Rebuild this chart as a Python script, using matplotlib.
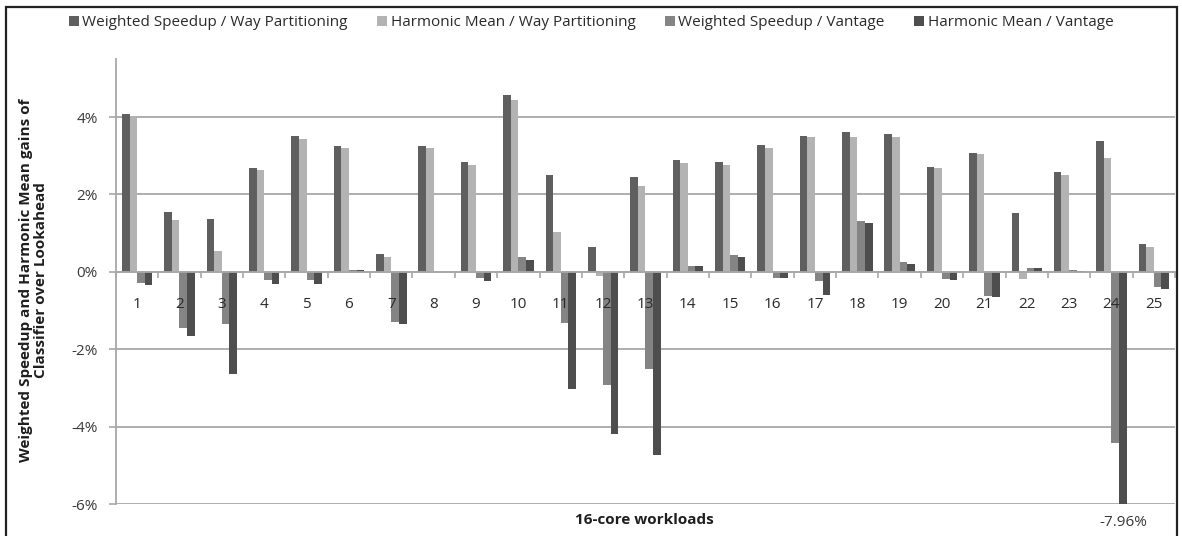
import matplotlib
matplotlib.use("Agg")
import matplotlib.pyplot as plt
import matplotlib.transforms as mtransforms
from matplotlib.patches import Patch, Rectangle
import numpy as np

plt.rcParams['font.family'] = ['Open Sans', 'DejaVu Sans']

workloads = [str(i) for i in range(1, 26)]

ws_way = [4.08, 1.55, 1.37, 2.69, 3.51, 3.24, 0.46, 3.25, 2.83, 4.56, 2.50, 0.64, 2.44,
          2.88, 2.83, 3.27, 3.52, 3.61, 3.57, 2.72, 3.08, 1.52, 2.57, 3.39, 0.72]
hm_way = [4.00, 1.33, 0.53, 2.62, 3.42, 3.20, 0.39, 3.20, 2.75, 4.44, 1.04, -0.12, 2.21,
          2.80, 2.75, 3.20, 3.49, 3.49, 3.49, 2.68, 3.05, -0.19, 2.50, 2.94, 0.64]
ws_vantage = [-0.29, -1.44, -1.36, -0.21, -0.21, 0.05, -1.29, 0.0, -0.15, 0.38, -1.31, -2.93, -2.51,
              0.16, 0.43, -0.15, -0.25, 1.30, 0.25, -0.19, -0.62, 0.09, 0.05, -4.42, -0.38]
hm_vantage = [-0.34, -1.66, -2.64, -0.31, -0.31, 0.04, -1.36, 0.0, -0.25, 0.31, -3.03, -4.20, -4.74,
              0.16, 0.39, -0.15, -0.60, 1.26, 0.21, -0.22, -0.66, 0.09, 0.03, -7.96, -0.45]

series = [
    ("Weighted Speedup / Way Partitioning", ws_way, "#5f5f5f"),
    ("Harmonic Mean / Way Partitioning", hm_way, "#b3b3b3"),
    ("Weighted Speedup / Vantage", ws_vantage, "#848484"),
    ("Harmonic Mean / Vantage", hm_vantage, "#4e4e4e"),
]

fig = plt.figure(figsize=(11.82, 5.36), dpi=100)
ax = fig.add_axes([0.0981, 0.0597, 0.8960, 0.8303])

x = np.arange(len(workloads))
w = 0.18
for i, (name, vals, color) in enumerate(series):
    ax.bar(x + (i - 1.5) * w, vals, width=w, color=color, label=name, zorder=2)

ax.set_xlim(-0.5, len(workloads) - 0.5)
ax.set_ylim(-6, 5.5)
ax.set_yticks([-6, -4, -2, 0, 2, 4])
ax.set_yticklabels([f"{v}%" for v in [-6, -4, -2, 0, 2, 4]])
ax.yaxis.grid(True, color="#a8a8a8", linewidth=1.3, zorder=0)
ax.set_axisbelow(True)
# workload numbers are printed over the bars
ax.xaxis.set_zorder(3)

for s in ["top", "right"]:
    ax.spines[s].set_visible(False)
ax.spines["bottom"].set_position(("data", 0))
ax.spines["bottom"].set_color("#a8a8a8")
ax.spines["bottom"].set_linewidth(1.3)
ax.spines["left"].set_color("#a8a8a8")
ax.spines["left"].set_linewidth(1.3)

# category labels sit well below the zero line, ticks mark the boundaries
ax.set_xticks(x)
ax.set_xticklabels(workloads)
ax.set_xticks(np.arange(len(workloads) + 1) - 0.5, minor=True)
ax.tick_params(axis="x", which="major", length=0, pad=18, labelsize=11, labelcolor="#2a2a2a")
ax.tick_params(axis="x", which="minor", length=4, width=1.2, color="#a8a8a8", direction="out")
ax.tick_params(axis="y", length=5, width=1.2, color="#a8a8a8", pad=8,
               labelsize=11, labelcolor="#3a3a3a")

fig.text(0.028, 0.478, "Weighted Speedup and Harmonic Mean gains of\nClassifier over Lookahead",
         rotation=90, ha="center", va="center", multialignment="center",
         fontsize=11, fontweight="bold", color="#1e1e1e", linespacing=1.1)
fig.text(0.545, 0.03, "16-core workloads", ha="center", va="center",
         fontsize=11, fontweight="bold", color="#1e1e1e")

# value of the clipped bar, written under it
trans = mtransforms.blended_transform_factory(ax.transData, fig.transFigure)
ax.text(x[23] + 1.5 * w, 0.026, f"{hm_vantage[23]:.2f}%", transform=trans,
        ha="center", va="center", fontsize=11, color="#3a3a3a")

handles = [Patch(facecolor=c, edgecolor="none") for _, _, c in series]
fig.legend(handles, [n for n, _, _ in series], loc="center", bbox_to_anchor=(0.5, 0.958),
           ncol=4, frameon=False, fontsize=11, handlelength=0.65, handleheight=0.65,
           handletextpad=0.25, columnspacing=1.9, labelcolor="#2a2a2a")

fig.add_artist(Rectangle((0.005, -0.02), 0.991, 1.007, transform=fig.transFigure,
                         fill=False, edgecolor="#222222", linewidth=1.6))

fig.savefig("out.png", dpi=100)
